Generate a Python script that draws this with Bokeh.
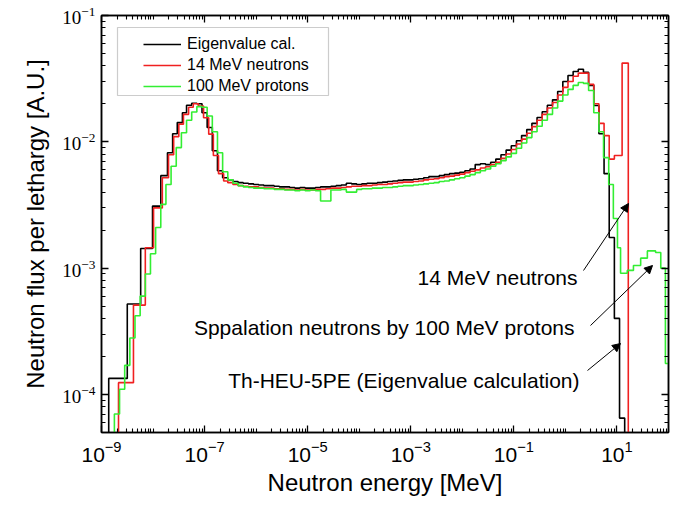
import numpy as np
from bokeh.plotting import figure
from bokeh.models import (LogAxis, FixedTicker, Legend, LegendItem, Arrow, NormalHead,
                          Label, Range1d, BoxAnnotation)
from bokeh.embed import file_html
from bokeh.resources import INLINE

# ---------------- data (log10 of energy in MeV for bin edges) ----------------
grid_plateau = [round(-6.55 + 0.1 * i, 2) for i in range(56)]  # -6.55 .. -1.05

# Eigenvalue calculation (black)
black_low_edges = [-8.86, -8.50, -8.24, -8.01, -7.85, -7.72, -7.62, -7.53, -7.43, -7.35,
                   -7.25, -7.15, -7.05, -6.95, -6.85, -6.75, -6.65]
black_low_vals = [1.34e-4, 5.2e-4, 1.43e-3, 3.1e-3, 5.4e-3, 8.2e-3, 1.16e-2, 1.42e-2, 1.7e-2,
                  1.95e-2, 2.02e-2, 2.0e-2, 1.7e-2, 1.3e-2, 8.5e-3, 5.9e-3, 5.2e-3]
black_plateau_vals = [
    5.0e-3, 4.85e-3, 4.75e-3, 4.7e-3, 4.65e-3, 4.6e-3, 4.55e-3, 4.5e-3, 4.5e-3, 4.45e-3,
    4.4e-3, 4.4e-3, 4.35e-3, 4.3e-3, 4.35e-3, 4.3e-3, 4.3e-3, 4.35e-3, 4.4e-3, 4.4e-3,
    4.45e-3, 4.5e-3, 4.55e-3, 4.7e-3, 4.65e-3, 4.6e-3, 4.65e-3, 4.7e-3, 4.7e-3, 4.75e-3,
    4.8e-3, 4.85e-3, 4.9e-3, 4.95e-3, 5.0e-3, 5.0e-3, 5.05e-3, 5.1e-3, 5.2e-3, 5.3e-3,
    5.3e-3, 5.4e-3, 5.5e-3, 5.6e-3, 5.65e-3, 5.75e-3, 5.9e-3, 6.1e-3, 6.6e-3, 6.7e-3,
    6.6e-3, 6.9e-3, 7.3e-3, 7.9e-3, 8.6e-3]
black_high_edges = [round(-0.95 + 0.1 * i, 2) for i in range(22)]  # -0.95 .. 1.15
black_high_vals = [9.3e-3, 1.02e-2, 1.12e-2, 1.25e-2, 1.4e-2, 1.56e-2, 1.73e-2, 1.95e-2,
                   2.15e-2, 2.5e-2, 3.0e-2, 3.35e-2, 3.6e-2, 3.75e-2, 3.55e-2, 2.8e-2,
                   1.94e-2, 1.16e-2, 5.6e-3, 1.75e-3, 4.0e-4, 6.5e-5]

# 14 MeV neutrons (red)
red_low_edges = [-8.67, -8.38, -8.15, -7.99, -7.82, -7.70, -7.60, -7.50, -7.41, -7.31,
                 -7.22, -7.12, -7.02, -6.92, -6.83, -6.73, -6.63]
red_low_vals = [1.24e-4, 5.1e-4, 1.45e-3, 3.0e-3, 5.2e-3, 7.9e-3, 1.1e-2, 1.38e-2, 1.65e-2,
                1.88e-2, 2.0e-2, 1.92e-2, 1.55e-2, 1.15e-2, 7.8e-3, 5.6e-3, 4.9e-3]
red_plateau_vals = [
    4.75e-3, 4.6e-3, 4.5e-3, 4.45e-3, 4.4e-3, 4.4e-3, 4.35e-3, 4.3e-3, 4.3e-3, 4.25e-3,
    4.25e-3, 4.2e-3, 4.2e-3, 4.15e-3, 4.2e-3, 4.15e-3, 4.15e-3, 4.2e-3, 4.2e-3, 4.25e-3,
    4.3e-3, 4.3e-3, 4.35e-3, 4.4e-3, 4.45e-3, 4.45e-3, 4.5e-3, 4.5e-3, 4.55e-3, 4.6e-3,
    4.6e-3, 4.65e-3, 4.7e-3, 4.75e-3, 4.8e-3, 4.8e-3, 4.85e-3, 4.9e-3, 5.0e-3, 5.05e-3,
    5.1e-3, 5.2e-3, 5.3e-3, 5.35e-3, 5.45e-3, 5.55e-3, 5.7e-3, 5.85e-3, 6.0e-3, 6.2e-3,
    6.35e-3, 6.6e-3, 6.9e-3, 7.4e-3, 8.0e-3]
red_high_edges = [round(-0.95 + 0.1 * i, 2) for i in range(19)] + [0.95, 1.10, 1.22]
red_high_vals = [8.7e-3, 9.6e-3, 1.05e-2, 1.17e-2, 1.32e-2, 1.48e-2, 1.65e-2, 1.85e-2,
                 2.05e-2, 2.35e-2, 2.7e-2, 3.0e-2, 3.3e-2, 3.5e-2, 3.5e-2, 2.85e-2,
                 2.0e-2, 1.4e-2, 1.12e-2, 7.3e-3, 7.8e-3, 4.2e-2]

# 100 MeV protons (green)
green_low_edges = [round(-8.75 + 0.1 * i, 2) for i in range(22)]  # -8.75 .. -6.65
green_low_vals = [7e-5, 1.1e-4, 1.7e-4, 2.8e-4, 4.2e-4, 6.0e-4, 9.0e-4, 1.3e-3, 2.1e-3,
                  3.2e-3, 4.6e-3, 6.4e-3, 9.0e-3, 1.18e-2, 1.48e-2, 1.72e-2, 1.9e-2,
                  1.88e-2, 1.6e-2, 1.2e-2, 8.2e-3, 5.8e-3]
green_plateau_vals = [
    5.0e-3, 4.7e-3, 4.5e-3, 4.4e-3, 4.35e-3, 4.3e-3, 4.3e-3, 4.25e-3, 4.25e-3, 4.2e-3,
    4.2e-3, 4.15e-3, 4.15e-3, 4.1e-3, 4.15e-3, 4.1e-3, 4.15e-3, 4.1e-3, 3.4e-3, 3.4e-3,
    4.15e-3, 4.15e-3, 4.2e-3, 4.0e-3, 4.0e-3, 4.2e-3, 4.25e-3, 4.25e-3, 4.3e-3, 4.3e-3,
    4.35e-3, 4.35e-3, 4.4e-3, 4.45e-3, 4.5e-3, 4.5e-3, 4.55e-3, 4.6e-3, 4.65e-3, 4.7e-3,
    4.75e-3, 4.85e-3, 4.9e-3, 5.0e-3, 5.1e-3, 5.2e-3, 5.35e-3, 5.5e-3, 5.7e-3, 5.9e-3,
    6.1e-3, 6.4e-3, 6.7e-3, 7.1e-3, 7.6e-3]
green_high_edges = [round(-0.95 + 0.1 * i, 2) for i in range(16)] + \
    [0.65, 0.74, 0.84, 0.93, 1.01, 1.07, 1.20, 1.32, 1.46, 1.59, 1.75, 1.85, 1.94, 2.05]
green_high_vals = [8.1e-3, 8.9e-3, 9.8e-3, 1.08e-2, 1.2e-2, 1.33e-2, 1.48e-2, 1.65e-2,
                   1.85e-2, 2.1e-2, 2.35e-2, 2.6e-2, 2.8e-2, 2.95e-2, 2.9e-2, 2.55e-2,
                   1.7e-2, 1.2e-2, 7.5e-3, 4.6e-3, 2.47e-3, 1.45e-3, 9.1e-4, 9.6e-4,
                   1.05e-3, 1.2e-3, 1.37e-3, 1.33e-3, 1.0e-3, 1.76e-4]

series_names = ["Eigenvalue cal.", "14 MeV neutrons", "100 MeV protons"]
series_colors = ["#000000", "#f02020", "#33ee33"]

x_major = [1e-9, 1e-7, 1e-5, 1e-3, 1e-1, 1e1]
y_major = [1e-4, 1e-3, 1e-2, 1e-1]

# ---------------- helpers ----------------
FLOOR = 1e-7


def step_path(edges_log, vals):
    E = [10 ** e for e in edges_log]
    xs, ys = [E[0]], [FLOOR]
    for i, v in enumerate(vals):
        xs += [E[i], E[i + 1]]
        ys += [v, v]
    xs.append(E[-1])
    ys.append(FLOOR)
    return xs, ys


black_edges = black_low_edges + grid_plateau + black_high_edges
black_vals = black_low_vals + black_plateau_vals + black_high_vals
red_edges = red_low_edges + grid_plateau + red_high_edges
red_vals = red_low_vals + red_plateau_vals + red_high_vals
green_edges = green_low_edges + grid_plateau + green_high_edges
green_vals = green_low_vals + green_plateau_vals + green_high_vals

assert len(black_edges) == len(black_vals) + 1
assert len(red_edges) == len(red_vals) + 1
assert len(green_edges) == len(green_vals) + 1

# ---------------- figure ----------------
W, H = 673, 506
p = figure(width=W, height=H, x_axis_type="log", y_axis_type="log",
           x_range=Range1d(1e-9, 1e2), y_range=Range1d(5e-5, 1e-1),
           output_backend="svg", toolbar_location=None,
           min_border_left=101, min_border_right=5, min_border_top=15, min_border_bottom=74)
p.grid.visible = False
p.outline_line_color = "black"
p.outline_line_width = 1.5
p.background_fill_color = "white"
p.border_fill_color = "white"

x_minor = [m * 10.0 ** k for k in range(-9, 2) for m in range(2, 10)] + [1e-8, 1e-6, 1e-4, 1e-2, 1e0, 1e2]
y_minor = [m * 10.0 ** k for k in range(-5, -1) for m in range(2, 10)]
xt = FixedTicker(ticks=x_major, minor_ticks=x_minor)
yt = FixedTicker(ticks=y_major, minor_ticks=y_minor)


def style_axis(ax, ticker, show_labels):
    ax.ticker = ticker
    ax.major_tick_in = 7
    ax.major_tick_out = 0
    ax.minor_tick_in = 4
    ax.minor_tick_out = 0
    ax.axis_line_width = 1.5
    ax.axis_line_color = "black"
    ax.major_tick_line_color = "black"
    ax.minor_tick_line_color = "black"
    ax.major_tick_line_width = 1.3
    ax.minor_tick_line_width = 1.1
    ax.major_label_text_color = "black"
    ax.axis_label_text_color = "black"
    if not show_labels:
        ax.major_label_text_font_size = "1px"
        ax.major_label_text_alpha = 0
        ax.major_label_standoff = 0


xa = p.xaxis[0]
style_axis(xa, xt, True)
xa.major_label_text_font = "Liberation Sans"
xa.major_label_text_font_size = "21px"
xa.major_label_standoff = 8
xa.axis_label = "Neutron energy [MeV]"
xa.axis_label_text_font = "Liberation Sans"
xa.axis_label_text_font_size = "24px"
xa.axis_label_text_font_style = "normal"
xa.axis_label_standoff = 4

ya = p.yaxis[0]
style_axis(ya, yt, True)
ya.major_label_text_font = "Liberation Serif"
ya.major_label_text_font_size = "19px"
ya.major_label_standoff = 6
ya.axis_label = "Neutron flux per lethargy [A.U.]"
ya.axis_label_text_font = "Liberation Sans"
ya.axis_label_text_font_size = "24px"
ya.axis_label_text_font_style = "normal"
ya.axis_label_standoff = 10

top_ax = LogAxis()
style_axis(top_ax, xt, False)
p.add_layout(top_ax, "above")
right_ax = LogAxis()
style_axis(right_ax, yt, False)
p.add_layout(right_ax, "right")

renderers = []
for edges, vals, color in [(black_edges, black_vals, series_colors[0]),
                           (red_edges, red_vals, series_colors[1]),
                           (green_edges, green_vals, series_colors[2])]:
    xs, ys = step_path(edges, vals)
    r = p.line(xs, ys, line_color=color, line_width=1.6)
    renderers.append(r)

# legend
legend = Legend(items=[LegendItem(label=n, renderers=[r]) for n, r in zip(series_names, renderers)],
                location=(42, 337), padding=0, margin=0, spacing=3,
                label_height=18, glyph_height=18, glyph_width=38, label_standoff=6,
                label_text_font="Liberation Sans", label_text_font_size="16px",
                label_text_color="black",
                border_line_alpha=0, background_fill_alpha=0)
p.add_layout(legend, "center")
p.add_layout(BoxAnnotation(left=16, right=227, bottom=337, top=405,
                           left_units="screen", right_units="screen",
                           bottom_units="screen", top_units="screen",
                           fill_alpha=0, line_color="#555555", line_width=1.2))

# annotations
ann_texts = ["14 MeV neutrons", "Sppalation neutrons by 100 MeV protons",
             "Th-HEU-5PE (Eigenvalue calculation)"]
ann_pos = [(476, 155), (473, 105), (478, 52)]
for t, (sx, sy) in zip(ann_texts, ann_pos):
    p.add_layout(Label(x=sx, y=sy, x_units="screen", y_units="screen", text=t,
                       text_align="right", text_baseline="middle",
                       text_font="Liberation Sans", text_font_size="21px",
                       text_color="black"))

arrows = [((482, 162), (527, 229)), ((489, 107), (551, 167)), ((486, 62), (519, 89))]
for (x0, y0), (x1, y1) in arrows:
    p.add_layout(Arrow(x_start=x0, y_start=y0, x_end=x1, y_end=y1,
                       start_units="screen", end_units="screen",
                       line_color="black", line_width=1,
                       end=NormalHead(size=8, fill_color="black", line_color="black")))

open("out.html", "w").write(file_html(p, INLINE))
